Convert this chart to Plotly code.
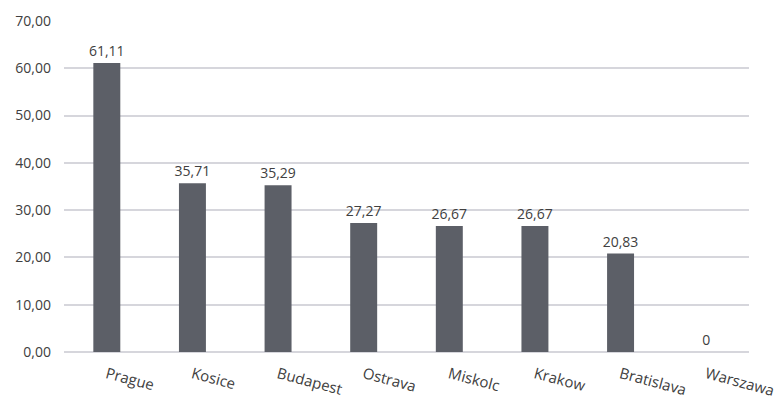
import plotly.graph_objects as go

cities = ["Prague", "Kosice", "Budapest", "Ostrava", "Miskolc", "Krakow", "Bratislava", "Warszawa"]
values = [61.11, 35.71, 35.29, 27.27, 26.67, 26.67, 20.83, 0]
y_ticks = [0, 10, 20, 30, 40, 50, 60, 70]

labels = [("%.2f" % v).replace(".", ",") if v != 0 else "0" for v in values]
y_tick_text = [("%.2f" % t).replace(".", ",") for t in y_ticks]

fig = go.Figure(go.Bar(
    x=cities, y=values, text=labels, textposition="outside",
    constraintext="none",
    marker=dict(color="#5c5f67", line=dict(width=0)),
    textfont=dict(family="Open Sans", size=14, color="#404040"),
    cliponaxis=False,
))
fig.update_layout(
    width=783, height=401,
    margin=dict(l=64, r=34, t=21, b=49),
    plot_bgcolor="white", paper_bgcolor="white",
    bargap=0.685,
    showlegend=False,
    font=dict(family="Open Sans", size=14, color="#404040"),
)
fig.update_xaxes(tickangle=15, showgrid=False, showline=False, ticks="",
                 ticklabelstandoff=10, automargin=False,
                 tickfont=dict(family="Open Sans", size=15, color="#404040"))
fig.update_yaxes(range=[0, 70], tickvals=y_ticks, ticktext=y_tick_text,
                 showgrid=True, gridcolor="#d6d6dc", gridwidth=1.5,
                 zeroline=True, zerolinecolor="#d6d6dc", zerolinewidth=1.5,
                 showline=False, ticks="", ticklabelstandoff=12, automargin=False,
                 tickfont=dict(family="Open Sans", size=14, color="#404040"))
fig.write_html("out.html")
